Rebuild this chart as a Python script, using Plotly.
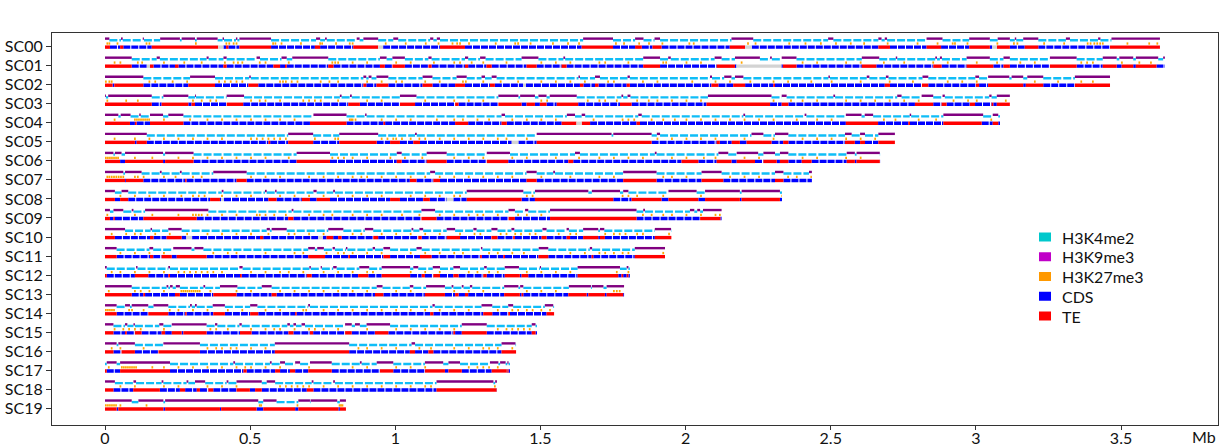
import plotly.graph_objects as go

scaffolds = ["SC00", "SC01", "SC02", "SC03", "SC04", "SC05", "SC06", "SC07", "SC08", "SC09",
             "SC10", "SC11", "SC12", "SC13", "SC14", "SC15", "SC16", "SC17", "SC18", "SC19"]
lengths = [3.634, 3.651, 3.462, 3.117, 3.083, 2.721, 2.670, 2.435, 2.332, 2.124,
           1.951, 1.929, 1.808, 1.788, 1.547, 1.488, 1.416, 1.395, 1.350, 0.830]

# H3K9me3 domains (Mb start, end) per scaffold
k9_segments = [
    [(0, 0.015), (0.055, 0.061), (0.130, 0.134), (0.19, 0.258), (0.264, 0.31), (0.316, 0.388), (0.405, 0.41), (0.451, 0.456), (0.463, 0.572), (0.727, 0.741), (0.758, 0.764), (0.867, 0.877), (0.89, 0.941), (0.993, 1.01), (1.12, 1.131), (1.143, 1.154), (1.647, 1.75), (1.826, 1.855), (1.893, 1.912), (2.158, 2.233), (2.491, 2.509), (2.664, 2.675), (2.686, 2.694), (2.83, 2.885), (2.977, 3.048), (3.075, 3.117), (3.134, 3.139), (3.163, 3.215), (3.31, 3.324), (3.421, 3.429), (3.467, 3.634)],
    [(0, 0.092), (0.178, 0.189), (0.350, 0.357), (0.408, 0.419), (0.522, 0.534), (0.608, 0.626), (0.645, 0.769), (0.947, 0.97), (0.99, 1.033), (1.114, 1.125), (1.24, 1.251), (1.292, 1.311), (1.435, 1.493), (1.579, 1.585), (1.854, 1.912), (1.94, 1.949), (2.1, 2.124), (2.17, 2.256), (2.291, 2.297), (2.331, 2.382), (2.607, 2.667), (2.724, 2.729), (2.86, 2.866), (2.876, 2.883), (2.968, 3.048), (3.095, 3.117), (3.255, 3.347), (3.437, 3.485), (3.494, 3.542), (3.551, 3.628), (3.645, 3.651)],
    [(0, 0.132), (0.293, 0.379), (0.497, 0.502), (0.89, 0.9), (0.908, 0.918), (0.935, 0.976), (1.094, 1.128), (1.211, 1.246), (1.297, 1.309), (1.332, 1.349), (1.631, 1.636), (1.688, 1.705), (1.8, 1.808), (2.084, 2.091), (2.133, 2.158), (2.17, 2.199), (2.492, 2.497), (2.624, 2.633), (2.69, 2.699), (2.816, 2.836), (2.998, 3.011), (3.042, 3.115), (3.123, 3.163), (3.177, 3.232), (3.341, 3.462)],
    [(0, 0.003), (0.011, 0.161), (0.201, 0.287), (0.31, 0.313), (0.419, 0.479), (0.809, 0.815), (0.844, 0.85), (1.016, 1.073), (1.355, 1.424), (1.43, 1.481), (1.493, 1.521), (1.532, 1.625), (1.779, 1.785), (1.8, 1.81), (2.077, 2.296), (2.331, 2.348), (2.509, 2.515), (2.729, 2.744), (2.813, 2.853), (2.885, 2.893), (3.046, 3.054), (3.072, 3.117)],
    [(0, 0.046), (0.054, 0.088), (0.118, 0.123), (0.155, 0.2), (0.218, 0.27), (0.718, 0.832), (0.896, 0.901), (1.366, 1.378), (1.591, 1.619), (1.642, 1.654), (1.837, 1.849), (2.199, 2.205), (2.41, 2.416), (2.552, 2.606), (2.617, 2.646), (2.772, 2.777), (2.888, 3.025), (3.058, 3.077)],
    [(0, 0.144), (0.631, 0.717), (0.807, 0.941), (1.068, 1.074), (1.487, 1.745), (1.751, 1.883), (1.901, 1.912), (2.227, 2.268), (2.308, 2.354), (2.549, 2.572), (2.601, 2.618), (2.664, 2.721)],
    [(0, 0.029), (0.034, 0.057), (0.069, 0.2), (0.207, 0.305), (0.66, 0.775), (1.005, 1.022), (1.108, 1.177), (1.315, 1.395), (1.619, 1.636), (1.894, 1.9), (2.113, 2.147), (2.176, 2.25), (2.268, 2.308), (2.325, 2.354), (2.555, 2.583), (2.589, 2.669)],
    [(0, 0.063), (0.069, 0.126), (0.189, 0.195), (0.258, 0.264), (0.373, 0.488), (1.12, 1.137), (1.452, 1.487), (1.544, 1.55), (1.785, 1.9), (2.055, 2.124), (2.308, 2.337), (2.425, 2.435)],
    [(0, 0.034), (0.057, 0.08), (0.402, 0.408), (0.551, 0.557), (0.586, 0.591), (0.718, 0.729), (0.786, 0.792), (1.246, 1.441), (1.481, 1.665), (1.677, 1.774), (1.785, 1.803), (1.941, 2.038), (2.067, 2.187), (2.193, 2.325)],
    [(0, 0.017), (0.029, 0.063), (0.092, 0.098), (0.138, 0.356), (0.643, 0.649), (1.09, 1.137), (1.39, 1.412), (1.447, 1.458), (1.533, 1.831), (1.854, 1.86), (2.015, 2.03), (2.04, 2.05), (2.06, 2.124)],
    [(0, 0.069), (0.157, 0.162), (0.218, 0.264), (0.557, 0.568), (0.574, 0.626), (0.769, 0.821), (0.895, 0.924), (1.056, 1.062), (1.083, 1.096), (1.177, 1.206), (1.269, 1.28), (1.331, 1.352), (1.4, 1.41), (1.507, 1.521), (1.59, 1.598), (1.647, 1.699), (1.705, 1.72), (1.894, 1.95)],
    [(0, 0.04), (0.153, 0.166), (0.235, 0.298), (0.308, 0.339), (0.7, 0.723), (0.731, 0.754), (0.784, 0.792), (0.83, 0.835), (0.922, 0.93), (0.959, 0.982), (1.073, 1.091), (1.295, 1.3), (1.494, 1.527), (1.67, 1.678), (1.825, 1.929)],
    [(0, 0.006), (0.107, 0.112), (0.218, 0.224), (0.463, 0.474), (0.704, 0.709), (0.743, 0.747), (0.786, 0.798), (0.876, 0.91), (0.953, 1.051), (1.062, 1.079), (1.129, 1.154), (1.2, 1.223), (1.306, 1.315), (1.377, 1.426), (1.498, 1.502), (1.628, 1.774), (1.797, 1.803)],
    [(0, 0.092), (0.212, 0.218), (0.224, 0.233), (0.244, 0.258), (0.339, 0.345), (0.396, 0.456), (0.54, 0.574), (0.936, 0.956), (1.05, 1.062), (1.106, 1.171), (1.194, 1.2), (1.229, 1.235), (1.257, 1.265), (1.375, 1.424), (1.43, 1.441), (1.598, 1.674), (1.677, 1.717), (1.728, 1.788)],
    [(0, 0.04), (0.069, 0.086), (0.092, 0.149), (0.167, 0.218), (0.293, 0.299), (0.31, 0.316), (0.371, 0.413), (0.5, 0.525), (0.7, 0.706), (1.128, 1.136), (1.297, 1.334), (1.389, 1.406), (1.515, 1.544)],
    [(0, 0.029), (0.069, 0.077), (0.098, 0.103), (0.187, 0.201), (0.23, 0.35), (0.379, 0.387), (0.463, 0.471), (0.628, 0.637), (0.649, 0.658), (0.677, 0.689), (0.827, 0.85), (0.861, 0.878), (0.901, 0.982), (1.229, 1.315), (1.47, 1.483)],
    [(0, 0.04), (0.046, 0.103), (0.201, 0.327), (0.585, 0.841), (1.056, 1.068), (1.366, 1.414)],
    [(0.006, 0.04), (0.052, 0.224), (0.442, 0.448), (0.568, 0.574), (0.603, 0.62), (0.655, 0.672), (0.706, 0.781), (0.878, 0.884), (0.936, 0.993), (1.102, 1.165), (1.183, 1.223), (1.326, 1.355), (1.361, 1.38), (1.386, 1.39)],
    [(0, 0.034), (0.098, 0.107), (0.195, 0.201), (0.281, 0.287), (0.31, 0.345), (0.419, 0.425), (0.453, 0.54), (0.557, 0.586), (0.712, 0.718), (0.786, 0.792), (1.142, 1.338), (1.344, 1.35)],
    [(0, 0.092), (0.115, 0.201), (0.207, 0.528), (0.545, 0.591), (0.666, 0.706), (0.708, 0.8), (0.809, 0.83)],
]

# TE annotations (Mb start, end)
te_segments = [
    [(0, 0.017), (0.052, 0.063), (0.161, 0.39), (0.417, 0.425), (0.463, 0.572), (0.723, 0.741), (0.855, 0.941), (1.154, 1.24), (1.642, 1.75), (1.826, 1.849), (1.886, 1.917), (2.152, 2.205), (2.664, 2.704), (2.83, 2.88), (2.977, 3.048), (3.072, 3.117), (3.168, 3.215), (3.462, 3.634)],
    [(0, 0.092), (0.155, 0.167), (0.241, 0.253), (0.408, 0.419), (0.58, 0.603), (0.62, 0.626), (0.769, 0.787), (0.947, 0.964), (0.99, 1.033), (1.114, 1.125), (1.24, 1.251), (1.314, 1.332), (1.452, 1.487), (1.573, 1.59), (1.854, 1.912), (2.107, 2.17), (2.335, 2.382), (2.607, 2.657), (2.853, 2.882), (2.968, 3.06), (3.095, 3.117), (3.255, 3.347), (3.437, 3.485), (3.502, 3.542), (3.551, 3.622)],
    [(0, 0.026), (0.032, 0.132), (0.287, 0.379), (0.494, 0.528), (0.89, 0.9), (0.935, 0.976), (1.094, 1.128), (1.206, 1.24), (1.326, 1.343), (1.636, 1.648), (1.688, 1.7), (1.797, 1.808), (2.089, 2.113), (2.164, 2.205), (2.302, 2.308), (2.686, 2.704), (2.814, 2.836), (3.0, 3.011), (3.042, 3.163), (3.172, 3.232), (3.341, 3.462)],
    [(0, 0.161), (0.195, 0.287), (0.298, 0.31), (0.419, 0.476), (0.838, 0.878), (1.016, 1.068), (1.206, 1.218), (1.355, 1.435), (1.452, 1.481), (1.498, 1.521), (1.556, 1.63), (1.774, 1.814), (2.072, 2.291), (2.331, 2.354), (2.79, 2.853), (2.882, 2.899), (2.979, 2.997), (3.054, 3.06), (3.072, 3.117)],
    [(0, 0.086), (0.103, 0.109), (0.155, 0.27), (0.706, 0.832), (0.959, 0.965), (1.206, 1.251), (1.366, 1.384), (1.573, 1.624), (1.642, 1.671), (1.831, 1.843), (2.552, 2.663), (2.767, 2.773), (2.888, 3.02), (3.058, 3.077)],
    [(0, 0.103), (0.109, 0.144), (0.563, 0.569), (0.631, 0.717), (0.807, 0.936), (0.982, 1.016), (1.062, 1.085), (1.487, 1.883), (2.107, 2.118), (2.159, 2.187), (2.21, 2.296), (2.336, 2.354), (2.549, 2.583), (2.601, 2.618), (2.664, 2.721)],
    [(0, 0.052), (0.069, 0.2), (0.207, 0.305), (0.66, 0.775), (1.005, 1.022), (1.108, 1.177), (1.315, 1.389), (1.596, 1.613), (1.986, 2.044), (2.107, 2.158), (2.176, 2.239), (2.268, 2.314), (2.325, 2.354), (2.4, 2.434), (2.555, 2.583), (2.589, 2.669)],
    [(0, 0.069), (0.072, 0.132), (0.276, 0.281), (0.453, 0.488), (1.05, 1.073), (1.131, 1.154), (1.452, 1.487), (1.785, 1.9), (2.055, 2.13), (2.308, 2.337)],
    [(0, 0.034), (0.052, 0.08), (0.362, 0.396), (0.563, 0.591), (0.678, 0.706), (0.729, 0.775), (0.982, 1.016), (1.096, 1.119), (1.246, 1.435), (1.481, 1.751), (1.814, 1.917), (1.941, 2.044), (2.067, 2.187), (2.193, 2.325)],
    [(0, 0.017), (0.029, 0.034), (0.132, 0.316), (0.631, 0.649), (1.09, 1.142), (1.39, 1.412), (1.533, 1.831), (2.05, 2.12)],
    [(0, 0.034), (0.155, 0.167), (0.212, 0.264), (0.534, 0.545), (0.763, 0.786), (0.803, 0.815), (0.924, 0.941), (1.079, 1.091), (1.177, 1.223), (1.331, 1.352), (1.406, 1.412), (1.504, 1.521), (1.59, 1.602), (1.647, 1.699), (1.705, 1.722), (1.894, 1.951)],
    [(0, 0.04), (0.155, 0.166), (0.195, 0.23), (0.247, 0.35), (0.7, 0.758), (0.838, 0.844), (0.959, 0.982), (1.085, 1.125), (1.292, 1.298), (1.372, 1.378), (1.493, 1.527), (1.676, 1.682), (1.825, 1.929)],
    [(0, 0.006), (0.103, 0.149), (0.218, 0.224), (0.465, 0.471), (0.695, 0.712), (0.872, 0.907), (0.953, 1.051), (1.091, 1.102), (1.131, 1.154), (1.2, 1.218), (1.303, 1.315), (1.377, 1.429), (1.435, 1.458), (1.628, 1.768), (1.779, 1.785), (1.797, 1.803)],
    [(0, 0.092), (0.132, 0.138), (0.241, 0.258), (0.373, 0.453), (0.574, 0.591), (0.93, 0.959), (1.102, 1.171), (1.206, 1.218), (1.24, 1.251), (1.375, 1.429), (1.435, 1.441), (1.596, 1.659), (1.665, 1.722), (1.728, 1.785)],
    [(0, 0.04), (0.149, 0.218), (0.276, 0.281), (0.373, 0.413), (0.5, 0.528), (0.655, 0.66), (1.12, 1.131), (1.303, 1.334), (1.389, 1.395), (1.521, 1.547)],
    [(0, 0.029), (0.069, 0.075), (0.103, 0.126), (0.195, 0.207), (0.23, 0.264), (0.27, 0.35), (0.465, 0.505), (0.632, 0.649), (0.706, 0.717), (0.827, 0.85), (0.93, 0.976), (1.2, 1.206), (1.229, 1.315), (1.47, 1.483)],
    [(0, 0.029), (0.057, 0.103), (0.184, 0.327), (0.585, 0.841), (1.05, 1.068), (1.114, 1.131), (1.366, 1.416)],
    [(0, 0.006), (0.052, 0.224), (0.477, 0.488), (0.586, 0.603), (0.637, 0.655), (0.7, 0.781), (0.947, 0.993), (1.102, 1.171), (1.183, 1.229), (1.332, 1.384), (1.386, 1.39)],
    [(0, 0.029), (0.097, 0.189), (0.258, 0.276), (0.316, 0.327), (0.356, 0.373), (0.453, 0.499), (0.517, 0.54), (0.695, 0.718), (1.142, 1.349)],
    [(0, 0.04), (0.046, 0.201), (0.207, 0.396), (0.4, 0.522), (0.545, 0.655), (0.666, 0.804), (0.809, 0.83)],
]

# unannotated gaps in the CDS/TE track
gap_segments = [
    [(0.39, 0.408), (0.941, 0.958), (2.205, 2.228), (3.056, 3.072)],
    [(0.144, 0.155), (2.175, 2.33)],
    [(1.44, 1.45)],
    [],
    [(1.624, 1.642)],
    [(1.401, 1.424)],
    [],
    [],
    [(0.4, 0.41), (1.177, 1.2)],
    [],
    [(0.28, 0.3), (0.735, 0.75)],
    [], [], [], [], [], [], [], [], [],
]

# H3K27me3 peak positions (Mb)
k27_peaks = [
    [0.005, 0.012, 0.040, 0.140, 0.150, 0.31, 0.415, 0.425, 0.44, 0.45, 0.576, 0.584, 0.605, 0.672, 0.738, 0.745, 0.793, 0.84, 0.85, 0.964, 1.033, 1.102, 1.146, 1.194, 1.21, 1.22, 1.251, 1.343, 1.41, 1.42, 1.463, 1.54, 1.592, 1.63, 1.757, 1.785, 1.837, 1.871, 1.917, 2.01, 2.025, 2.212, 2.238, 2.354, 2.41, 2.463, 2.515, 2.566, 2.612, 2.693, 2.796, 2.865, 2.917, 2.925, 2.968, 3.071, 3.128, 3.14, 3.232, 3.301, 3.382, 3.392, 3.405, 3.415, 3.425, 3.434, 3.519, 3.594, 3.622],
    [0.03, 0.05, 0.11, 0.125, 0.2, 0.27, 0.33, 0.41, 0.44, 0.455, 0.47, 0.53, 0.55, 0.63, 0.78, 0.79, 0.8, 0.85, 0.9, 1.0, 1.05, 1.13, 1.2, 1.22, 1.26, 1.3, 1.38, 1.5, 1.55, 1.6, 1.7, 1.72, 1.8, 1.92, 1.93, 2.0, 2.05, 2.19, 2.4, 2.45, 2.55, 2.6, 2.68, 2.75, 2.85, 2.9, 3.0, 3.07, 3.15, 3.2, 3.36, 3.38, 3.4, 3.5, 3.56, 3.6],
    [0.0, 0.012, 0.02, 0.15, 0.17, 0.23, 0.28, 0.39, 0.41, 0.43, 0.45, 0.47, 0.6, 0.61, 0.62, 0.64, 0.66, 0.74, 0.77, 0.8, 0.9, 0.95, 1.0, 1.02, 1.1, 1.15, 1.23, 1.24, 1.3, 1.36, 1.42, 1.5, 1.55, 1.6, 1.65, 1.73, 1.75, 1.85, 1.9, 2.02, 2.1, 2.15, 2.22, 2.3, 2.35, 2.43, 2.5, 2.6, 2.7, 2.78, 2.9, 2.95, 3.0, 3.2, 3.28, 3.36, 3.4],
    [0.005, 0.07, 0.11, 0.3, 0.33, 0.36, 0.38, 0.5, 0.53, 0.55, 0.6, 0.68, 0.7, 0.72, 0.74, 0.8, 0.9, 0.95, 1.1, 1.2, 1.25, 1.3, 1.5, 1.52, 1.66, 1.7, 1.72, 1.76, 1.83, 1.87, 1.9, 1.95, 2.0, 2.05, 2.3, 2.36, 2.4, 2.45, 2.55, 2.6, 2.65, 2.7, 2.75, 2.8, 2.92, 2.97, 3.0, 3.1],
    [0.03, 0.1, 0.107, 0.114, 0.121, 0.128, 0.135, 0.142, 0.149, 0.2, 0.29, 0.35, 0.4, 0.45, 0.5, 0.55, 0.6, 0.65, 0.84, 0.845, 0.85, 0.86, 0.95, 1.0, 1.05, 1.14, 1.2, 1.23, 1.28, 1.32, 1.4, 1.45, 1.5, 1.55, 1.68, 1.78, 1.8, 1.82, 1.88, 1.92, 1.96, 2.0, 2.05, 2.1, 2.15, 2.2, 2.25, 2.3, 2.38, 2.45, 2.5, 2.68, 2.72, 2.8, 2.86, 3.05],
    [0.03, 0.1, 0.15, 0.2, 0.25, 0.3, 0.35, 0.4, 0.5, 0.52, 0.54, 0.56, 0.58, 0.6, 0.62, 0.72, 0.79, 0.8, 0.95, 0.97, 0.99, 1.0, 1.02, 1.05, 1.08, 1.1, 1.15, 1.2, 1.25, 1.3, 1.35, 1.38, 1.45, 1.9, 1.95, 2.0, 2.05, 2.1, 2.2, 2.3, 2.4, 2.45, 2.5, 2.55, 2.6, 2.65],
    [0.0, 0.007, 0.014, 0.021, 0.028, 0.035, 0.042, 0.1, 0.16, 0.25, 0.3, 0.35, 0.4, 0.45, 0.5, 0.55, 0.63, 0.78, 0.8, 0.82, 0.85, 0.9, 0.98, 1.03, 1.09, 1.2, 1.25, 1.3, 1.4, 1.45, 1.55, 1.63, 1.7, 1.75, 1.8, 1.85, 1.95, 2.0, 2.06, 2.1, 2.2, 2.25, 2.4, 2.45, 2.55, 2.6],
    [0.005, 0.012, 0.02, 0.028, 0.036, 0.044, 0.052, 0.06, 0.1, 0.11, 0.13, 0.2, 0.24, 0.3, 0.33, 0.5, 0.55, 0.6, 0.7, 0.75, 0.8, 0.85, 0.88, 0.9, 0.95, 1.0, 1.05, 1.1, 1.15, 1.2, 1.25, 1.3, 1.35, 1.4, 1.5, 1.6, 1.7, 1.75, 1.92, 1.95, 2.0, 2.15, 2.2, 2.25, 2.35, 2.38, 2.43],
    [0.05, 0.1, 0.15, 0.2, 0.26, 0.3, 0.32, 0.34, 0.4, 0.45, 0.5, 0.6, 0.65, 0.7, 0.75, 0.8, 0.85, 0.9, 0.95, 1.05, 1.1, 1.15, 1.2, 1.22, 1.45, 1.47, 1.78, 1.8, 1.83, 1.92, 2.05, 2.33],
    [0.005, 0.1, 0.16, 0.25, 0.3, 0.31, 0.32, 0.33, 0.35, 0.4, 0.45, 0.52, 0.53, 0.55, 0.58, 0.62, 0.7, 0.75, 0.78, 0.85, 0.9, 0.95, 1.02, 1.08, 1.15, 1.2, 1.25, 1.28, 1.3, 1.35, 1.42, 1.45, 1.5, 1.85, 1.88, 1.92, 1.95, 2.0, 2.05, 2.1, 2.115],
    [0.02, 0.07, 0.1, 0.12, 0.17, 0.22, 0.28, 0.35, 0.4, 0.45, 0.5, 0.56, 0.63, 0.65, 0.7, 0.75, 0.85, 0.88, 0.95, 1.0, 1.05, 1.1, 1.15, 1.22, 1.27, 1.29, 1.36, 1.38, 1.41, 1.43, 1.46, 1.48, 1.56, 1.6, 1.62, 1.72, 1.75, 1.77, 1.79, 1.83, 1.85, 1.94],
    [0.05, 0.1, 0.15, 0.2, 0.37, 0.42, 0.45, 0.55, 0.65, 0.68, 0.76, 0.8, 0.82, 0.85, 0.9, 0.95, 1.05, 1.1, 1.15, 1.2, 1.23, 1.32, 1.35, 1.4, 1.44, 1.6, 1.65, 1.7, 1.72, 1.75, 1.78, 1.8, 1.92],
    [0.02, 0.05, 0.1, 0.15, 0.2, 0.25, 0.27, 0.29, 0.31, 0.33, 0.35, 0.37, 0.4, 0.5, 0.55, 0.6, 0.63, 0.68, 0.75, 0.8, 0.85, 0.9, 0.92, 1.05, 1.1, 1.15, 1.25, 1.28, 1.32, 1.35, 1.45, 1.5, 1.55, 1.6, 1.76, 1.8],
    [0.01, 0.1, 0.12, 0.15, 0.2, 0.26, 0.267, 0.274, 0.281, 0.288, 0.295, 0.302, 0.309, 0.316, 0.323, 0.36, 0.45, 0.5, 0.6, 0.65, 0.7, 0.75, 0.8, 0.85, 0.9, 1.0, 1.05, 1.2, 1.25, 1.3, 1.45, 1.5, 1.55, 1.75, 1.76, 1.77],
    [0.0, 0.007, 0.014, 0.021, 0.028, 0.08, 0.09, 0.13, 0.22, 0.25, 0.3, 0.35, 0.42, 0.47, 0.55, 0.6, 0.68, 0.69, 0.75, 0.8, 0.85, 0.9, 0.95, 1.0, 1.05, 1.1, 1.15, 1.2, 1.25, 1.35, 1.4, 1.42, 1.45, 1.47, 1.5, 1.53],
    [0.03, 0.06, 0.08, 0.1, 0.12, 0.2, 0.36, 0.38, 0.42, 0.5, 0.55, 0.58, 0.6, 0.65, 0.7, 0.72, 0.75, 0.8, 0.9, 1.0, 1.05, 1.1, 1.15, 1.2, 1.35, 1.38, 1.4, 1.42, 1.44, 1.46],
    [0.02, 0.05, 0.13, 0.35, 0.38, 0.4, 0.43, 0.45, 0.5, 0.55, 0.87, 0.9, 0.95, 1.0, 1.08, 1.12, 1.2, 1.25, 1.3, 1.32, 1.35, 1.4],
    [0.01, 0.055, 0.062, 0.069, 0.076, 0.083, 0.09, 0.097, 0.104, 0.16, 0.2, 0.25, 0.3, 0.35, 0.4, 0.45, 0.48, 0.5, 0.55, 0.6, 0.7, 0.85, 0.9, 1.0, 1.05, 1.1, 1.25, 1.28, 1.3, 1.32, 1.35],
    [0.05, 0.1, 0.2, 0.25, 0.35, 0.4, 0.45, 0.6, 0.62, 0.64, 0.66, 0.68, 0.7, 0.75, 0.8, 0.85, 0.9, 0.95, 1.0, 1.05, 1.1, 1.12, 1.34],
    [0.0, 0.007, 0.014, 0.021, 0.028, 0.035, 0.05, 0.14, 0.53, 0.535, 0.66, 0.805, 0.81, 0.815],
]

legend_names = ["H3K4me2", "H3K9me3", "H3K27me3", "CDS", "TE"]
legend_colors = ["#00C8CC", "#C000C8", "#FF9900", "#0000FF", "#FF0000"]
x_ticks = [0, 0.5, 1, 1.5, 2, 2.5, 3, 3.5]
x_tick_labels = ["0", "0.5", "1", "1.5", "2", "2.5", "3", "3.5"]

# ---- styling ----
W, H = 1228, 447
ML, MR, MT, MB = 52, 10, 33, 22
PW, PH = W - ML - MR, H - MT - MB
PX = 19.05  # pixels per scaffold row
OFF_BOTTOM = 0.6 / PX
OFF_K27 = -3.0 / PX
OFF_K4 = -6.3 / PX
OFF_K9 = -7.9 / PX
C_K4 = "#0FBDF7"
C_K9 = "#800080"
C_K27 = "#FFA500"
C_CDS = "#0000FF"
C_TE = "#FF0000"
C_GAP = "#D3D3D3"
TICK_W = 0.006
AX = "#333333"
TXT = "#111111"
FONT = "Lato, Open Sans, sans-serif"


def complement(segs, length):
    out = []
    pos = 0.0
    for s, e in sorted(segs):
        if s > pos:
            out.append((pos, s))
        pos = max(pos, e)
    if pos < length:
        out.append((pos, length))
    return out


def line_xy(seg_lists, offset):
    xs, ys = [], []
    for i, segs in enumerate(seg_lists):
        for s, e in segs:
            xs += [s, e, None]
            ys += [i + offset, i + offset, None]
    return xs, ys


k4_segments = [complement(k9_segments[i], lengths[i]) for i in range(len(scaffolds))]
cds_segments = [complement(te_segments[i] + gap_segments[i], lengths[i]) for i in range(len(scaffolds))]
k27_segments = [[(p, min(p + TICK_W, lengths[i])) for p in k27_peaks[i]] for i in range(len(scaffolds))]

fig = go.Figure()

tracks = [
    (cds_segments, OFF_BOTTOM, C_CDS, 3.4, "7px,1px"),
    (te_segments, OFF_BOTTOM, C_TE, 3.4, None),
    (gap_segments, OFF_BOTTOM, C_GAP, 3.4, None),
    (k27_segments, OFF_K27, C_K27, 2.3, None),
    (k4_segments, OFF_K4, C_K4, 2.4, "8px,2px"),
    (k9_segments, OFF_K9, C_K9, 2.4, None),
]
for segs, off, col, w, dash in tracks:
    xs, ys = line_xy(segs, off)
    line = dict(color=col, width=w)
    if dash:
        line["dash"] = dash
    fig.add_trace(go.Scatter(x=xs, y=ys, mode="lines", line=line,
                             showlegend=False, hoverinfo="skip"))

# legend drawn as paper-anchored swatches + labels
shapes, annotations = [], []
LEG_SWATCH_X = 1045
LEG_TEXT_X = 1060
LEG_Y0 = 237
LEG_STEP = 19.75
for k, (name, col) in enumerate(zip(legend_names, legend_colors)):
    cy = LEG_Y0 + k * LEG_STEP
    shapes.append(dict(type="rect", xref="paper", yref="paper",
                       x0=(LEG_SWATCH_X - 6 - ML) / PW, x1=(LEG_SWATCH_X + 6 - ML) / PW,
                       y0=(H - MB - (cy + 4.5)) / PH, y1=(H - MB - (cy - 4.5)) / PH,
                       fillcolor=col, line=dict(width=0), layer="above"))
    annotations.append(dict(text=name, xref="paper", yref="paper",
                            x=(LEG_TEXT_X - ML) / PW, y=(H - MB - cy) / PH,
                            xanchor="left", yanchor="middle", showarrow=False,
                            font=dict(family=FONT, size=16, color=TXT)))

annotations.append(dict(text="Mb", xref="paper", yref="paper", x=(1204 - ML) / PW,
                        y=(H - MB - 437) / PH, xanchor="center", yanchor="middle",
                        showarrow=False, font=dict(family=FONT, size=16, color=TXT)))

fig.update_layout(
    template="none",
    width=W, height=H,
    margin=dict(l=ML, r=MR, t=MT, b=MB, pad=0),
    paper_bgcolor="white", plot_bgcolor="white",
    font=dict(family=FONT, size=16, color=TXT),
    showlegend=False,
    xaxis=dict(range=[-0.1826, 3.834], tickvals=x_ticks, ticktext=x_tick_labels,
               showgrid=False, zeroline=False, showline=True, linecolor=AX,
               linewidth=1, mirror=True, ticks="outside", ticklen=4,
               tickcolor=AX, tickwidth=1, tickfont=dict(size=16, color=TXT),
               ticklabelstandoff=-5, automargin=False),
    yaxis=dict(range=[19.87, -0.71], tickvals=list(range(len(scaffolds))),
               ticktext=scaffolds, showgrid=False, zeroline=False, showline=True,
               linecolor=AX, linewidth=1, mirror=True, ticks="outside",
               ticklen=5, tickcolor=AX, tickwidth=1,
               tickfont=dict(size=16, color=TXT), automargin=False),
    shapes=shapes,
    annotations=annotations,
)

# remove the browser's default 8px page margin so the figure fills the window
fig.write_html("out.html", config={"displayModeBar": False},
               post_script="document.body.style.margin='0';document.body.style.overflow='hidden';")
